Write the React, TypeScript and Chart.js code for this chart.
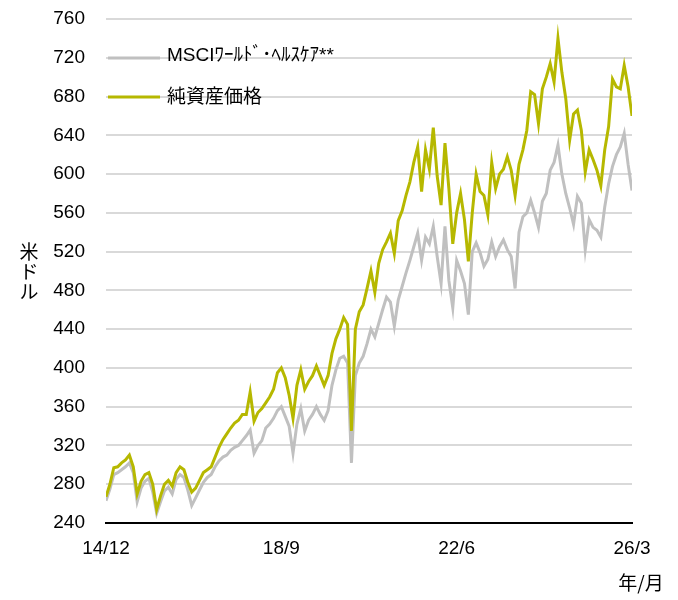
import React, { useEffect, useRef } from "react";
import { Chart, registerables } from "chart.js";

Chart.register(...registerables);

// month index 0 = 2014/12
const xTickMonths = [0, 45, 90, 135];
const xTickLabels = ["14/12", "18/9", "22/6", "26/3"];
const yMin = 240;
const yMax = 760;
const yStep = 40;

const seriesLabels = ["純資産価格", "MSCIﾜｰﾙﾄﾞ･ﾍﾙｽｹｱ**"];
const yAxisTitle = ["米", "ド", "ル"];
const xAxisTitle = "年/月";

const navValues = [
  267, 280, 297, 298, 302, 305, 310, 298, 270, 283,
  290, 292, 280, 254, 268, 280, 284, 278, 292, 298,
  295, 282, 272, 276, 284, 292, 295, 298, 308, 318,
  326, 332, 338, 343, 346, 352, 352, 375, 345, 354,
  358, 364, 370, 378, 395, 400, 390, 372, 348, 382,
  398, 378, 386, 392, 402, 392, 382, 392, 415, 430,
  440, 452, 445, 335, 440, 458, 465, 482, 500, 478,
  508, 522, 530, 539, 518, 552, 562, 578, 592, 612,
  628, 582, 625, 605, 648, 598, 568, 632, 585, 528,
  560, 580, 553, 510, 560, 600, 582, 578, 558, 612,
  585, 600, 605, 618, 604, 578, 610, 625, 645, 685,
  682, 652, 688, 700, 714, 695, 740, 705, 678, 635,
  662, 666, 645, 602, 625, 615, 604, 588, 625, 649,
  698, 690, 688, 712, 690, 660,
];

const msciValues = [
  263, 275, 290, 292, 295, 298, 302, 292, 262, 276,
  283, 286, 272, 250, 262, 273, 277, 270, 285, 290,
  287, 274, 258, 266, 274, 282, 287, 290, 298, 304,
  308, 310, 315, 318, 320, 325, 330, 336, 312, 320,
  325, 338, 342, 348, 356, 360, 350, 340, 312, 342,
  358, 335, 346, 352, 360, 352, 346, 356, 382, 398,
  410, 412, 405, 302, 392, 405, 412, 425, 440, 432,
  446, 460, 473, 468, 443, 470, 484, 498, 511, 525,
  539, 511, 535, 528, 546, 515, 487, 546, 490, 462,
  511, 500, 487, 455, 520, 529, 519, 505, 512, 530,
  515, 525, 532, 522, 515, 482, 540, 556, 560, 573,
  560, 545, 572, 580, 604, 612, 630, 600, 580, 565,
  548, 577, 570, 522, 553, 545, 542, 535, 566, 590,
  608, 620, 628, 642, 610, 583,
];

const navColor = "#b6b800";
const msciColor = "#c0c0c0";
const FONT = "Arial, 'Liberation Sans', 'Noto Sans CJK JP', sans-serif";
const JPFONT = "'Noto Sans CJK JP', Arial, 'Liberation Sans', sans-serif";

const overlayPlugin = {
  id: "overlay",
  afterDraw(chart: any) {
    const ctx = chart.ctx;
    const { left } = chart.chartArea;
    ctx.save();
    const rows = [
      { label: seriesLabels[1], color: msciColor, lineY: 58, textY: 56 },
      { label: seriesLabels[0], color: navColor, lineY: 97, textY: 98 },
    ];
    rows.forEach((r) => {
      ctx.strokeStyle = r.color;
      ctx.lineWidth = 3;
      ctx.beginPath();
      ctx.moveTo(left + 2, r.lineY);
      ctx.lineTo(left + 54, r.lineY);
      ctx.stroke();
      ctx.fillStyle = "#000";
      ctx.font = `19px ${FONT}`;
      ctx.textAlign = "left";
      ctx.textBaseline = "middle";
      ctx.fillText(r.label, left + 61, r.textY);
    });
    ctx.font = `19px ${JPFONT}`;
    ctx.textAlign = "center";
    ctx.textBaseline = "middle";
    yAxisTitle.forEach((ch, i) => {
      ctx.fillText(ch, 29, 252 + i * 20);
    });
    ctx.font = `19px ${JPFONT}`;
    ctx.fillText(xAxisTitle, 641, 583);
    ctx.restore();
  },
};

export default function App() {
  const ref = useRef<HTMLCanvasElement>(null);
  useEffect(() => {
    if (!ref.current) return;
    const chart = new Chart(ref.current, {
      type: "line",
      data: {
        datasets: [
          {
            label: seriesLabels[0],
            data: navValues.map((v, i) => ({ x: i, y: v })),
            borderColor: navColor,
            borderWidth: 3,
            pointRadius: 0,
            tension: 0,
          },
          {
            label: seriesLabels[1],
            data: msciValues.map((v, i) => ({ x: i, y: v })),
            borderColor: msciColor,
            borderWidth: 3,
            pointRadius: 0,
            tension: 0,
          },
        ],
      },
      options: {
        animation: false,
        responsive: false,
        devicePixelRatio: 1,
        layout: { padding: { top: 19, right: 46, bottom: 0, left: 0 } },
        plugins: { legend: { display: false }, tooltip: { enabled: false } },
        scales: {
          x: {
            type: "linear",
            min: xTickMonths[0],
            max: xTickMonths[xTickMonths.length - 1],
            afterBuildTicks: (s: any) => {
              s.ticks = xTickMonths.map((v) => ({ value: v }));
            },
            afterFit: (s: any) => {
              s.height = 77;
              s.paddingLeft = 0;
              s.paddingRight = 0;
            },
            ticks: {
              autoSkip: false,
              maxRotation: 0,
              color: "#000",
              padding: 14,
              font: { family: FONT, size: 19 },
              callback: (v: any) => {
                const i = xTickMonths.indexOf(Number(v));
                return i >= 0 ? xTickLabels[i] : "";
              },
            },
            grid: { display: false, drawTicks: false },
            border: { display: true, color: "#000", width: 2 },
          },
          y: {
            min: yMin,
            max: yMax,
            afterFit: (s: any) => {
              s.width = 106;
              s.paddingTop = 0;
              s.paddingBottom = 0;
            },
            ticks: {
              stepSize: yStep,
              color: "#000",
              padding: 21,
              font: { family: FONT, size: 19 },
            },
            grid: {
              drawTicks: false,
              lineWidth: 2,
              color: (c: any) => (c.tick && c.tick.value === yMin ? "rgba(0,0,0,0)" : "#d9d9d9"),
            },
            border: { display: false },
          },
        },
      },
      plugins: [overlayPlugin],
    });
    return () => chart.destroy();
  }, []);
  return (
    <div style={{ position: "absolute", left: 0, top: 0, width: 678, height: 600, background: "#fff" }}>
      <canvas ref={ref} width={678} height={600} style={{ width: 678, height: 600 }} />
    </div>
  );
}
